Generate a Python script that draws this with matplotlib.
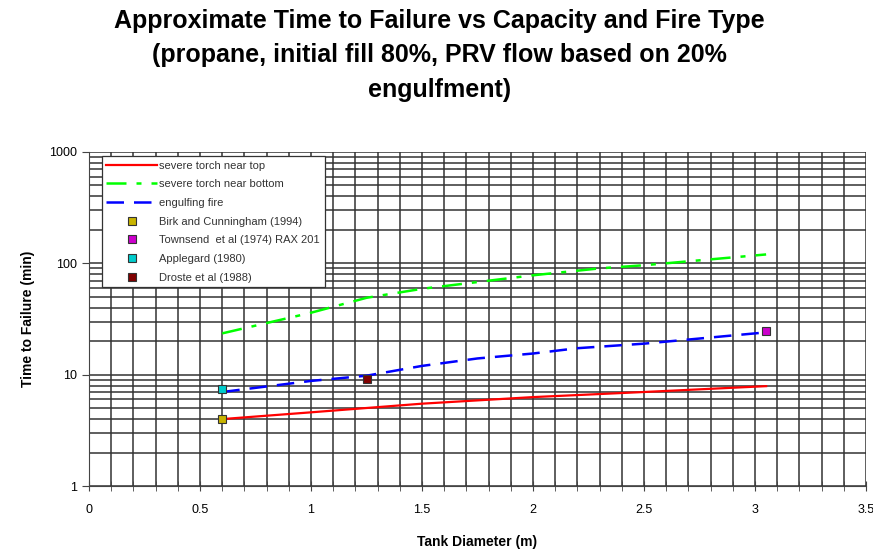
import numpy as np
import matplotlib.pyplot as plt
from matplotlib.ticker import MultipleLocator, LogLocator, NullFormatter

plt.rcParams['font.family'] = ['Liberation Sans', 'DejaVu Sans']

# tank diameter (m) and time to failure (min)
x_top = [0.6, 1.0, 1.5, 2.0, 2.5, 3.05]
y_top = [4.0, 4.6, 5.5, 6.3, 7.0, 7.9]

x_bot = [0.6, 1.0, 1.25, 1.5, 2.0, 2.3, 2.5, 3.05]
y_bot = [23.5, 36, 49, 59, 78, 90, 96, 120]

x_eng = [0.6, 1.0, 1.25, 1.5, 1.75, 2.0, 2.2, 2.5, 3.05]
y_eng = [7.0, 8.8, 9.8, 12, 14, 15.5, 17.3, 19, 24]

tests = [
    ('Birk and Cunningham (1994)', 0.6, 4.0, '#c8b400'),
    ('Townsend  et al (1974) RAX 201', 3.05, 24.5, '#cc00cc'),
    ('Applegard (1980)', 0.6, 7.5, '#00cccc'),
    ('Droste et al (1988)', 1.25, 9.2, '#800000'),
]

fig = plt.figure(figsize=(8.73, 5.50), dpi=100)
ax = fig.add_axes([0.102, 0.116, 0.890, 0.608])

ax.plot(x_top, y_top, color='#ff0000', lw=1.6, label='severe torch near top')
ax.plot(x_bot, y_bot, color='#00ff00', lw=1.8, dashes=(8, 4, 2, 4), label='severe torch near bottom')
ax.plot(x_eng, y_eng, color='#0000ff', lw=1.8, dashes=(7, 4), label='engulfing fire')
for name, tx, ty, c in tests:
    ax.plot([tx], [ty], ls='none', marker='s', ms=6, mfc=c, mec='#333333', mew=0.8, label=name)

ax.set_yscale('log')
ax.set_xlim(0, 3.5)
ax.set_ylim(1, 1000)
ax.xaxis.set_minor_locator(MultipleLocator(0.1))
ax.set_xticks(np.arange(0, 3.51, 0.5))
ax.set_xticklabels(['0', '0.5', '1', '1.5', '2', '2.5', '3', '3.5'])
ax.set_yticks([1, 10, 100, 1000])
ax.set_yticklabels(['1', '10', '100', '1000'])
ax.yaxis.set_minor_locator(LogLocator(base=10, subs=np.arange(2, 10)))
ax.yaxis.set_minor_formatter(NullFormatter())

ax.grid(True, which='both', color='#333333', lw=1.1)
ax.set_axisbelow(True)
ax.tick_params(axis='x', which='both', direction='inout', length=7, color='#444444', labelsize=9, pad=9)
ax.tick_params(axis='y', which='major', direction='out', length=5, color='#444444', labelsize=9)
ax.tick_params(axis='y', which='minor', length=0)
for s in ['top', 'right']:
    ax.spines[s].set_visible(False)
for s in ['left', 'bottom']:
    ax.spines[s].set_color('#444444')

ax.set_xlabel('Tank Diameter (m)', fontsize=10, fontweight='bold', labelpad=14)
ax.set_ylabel('Time to Failure (min)', fontsize=10, fontweight='bold', labelpad=10)

fig.text(0.503, 0.984,
         'Approximate Time to Failure vs Capacity and Fire Type\n'
         '(propane, initial fill 80%, PRV flow based on 20%\nengulfment)',
         ha='center', va='top', fontsize=18, fontweight='bold', linespacing=1.55)

leg = ax.legend(loc='upper left', bbox_to_anchor=(0.012, 0.997), fontsize=8,
                frameon=True, fancybox=False, edgecolor='#333333', framealpha=1,
                borderpad=0.4, labelspacing=0.78, handlelength=4.6, handletextpad=0.2,
                borderaxespad=0.3)
leg.get_frame().set_linewidth(0.9)
for t in leg.get_texts():
    t.set_color('#333333')

fig.savefig('out.png', dpi=100)
